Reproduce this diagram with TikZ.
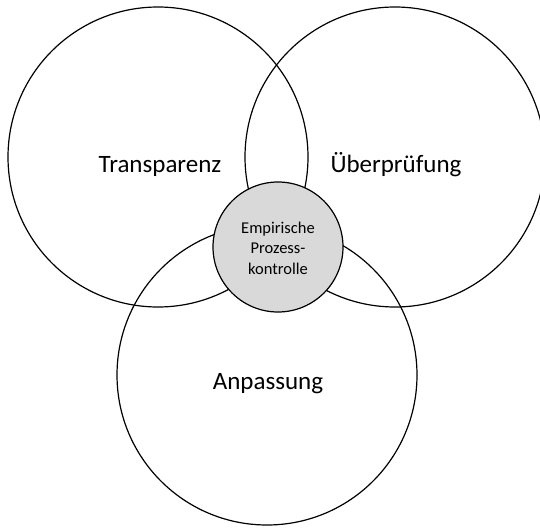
\documentclass[tikz,border=0pt]{standalone}
\usepackage{fontspec}
\setmainfont{Carlito}
\definecolor{grayfill}{HTML}{D9D9D9}
\tikzset{
  bigcircle/.style={circle, draw=black, line width=1.2pt, minimum size=300pt, inner sep=0pt},
  corecircle/.style={circle, draw=black, line width=1.2pt, fill=grayfill, minimum size=130pt, inner sep=0pt},
  biglabel/.style={font=\fontsize{25}{30}\selectfont, anchor=base, inner sep=0pt},
  corelabel/.style={font=\fontsize{16.5}{20.5}\selectfont, align=center, inner sep=0pt}
}
\begin{document}
\begin{tikzpicture}[x=1pt, y=-1pt]
\useasboundingbox (0,0) rectangle (540,527);
\clip (0,0) rectangle (540,527);
\node[bigcircle] (trans) at (158,157) {};
\node[bigcircle] (pruef) at (395,157) {};
\node[bigcircle] (anp) at (267,375) {};
\node[corecircle] (core) at (278,247) {};
\node[biglabel] (ttrans) at (160,172) {Transparenz};
\node[biglabel] (tpruef) at (396,172) {Überprüfung};
\node[biglabel] (tanp) at (268,389) {Anpassung};
\node[corelabel] (tcore) at (278,248) {Empirische\\Prozess-\\kontrolle};
\end{tikzpicture}
\end{document}
